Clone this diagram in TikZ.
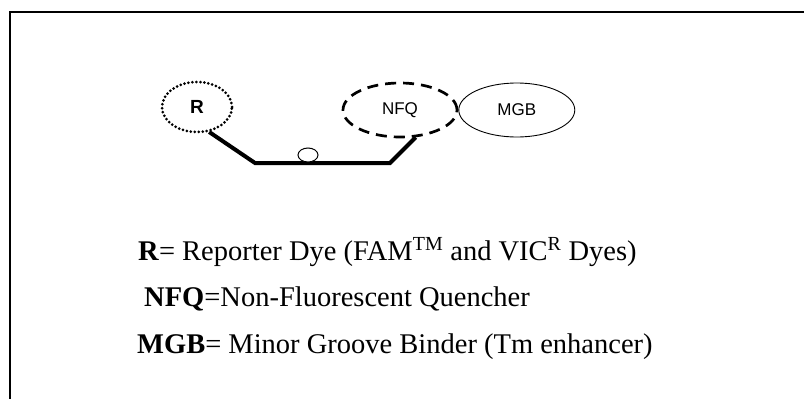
\documentclass[tikz,border=0pt]{standalone}
\usepackage{fontspec}
\setmainfont{Liberation Serif}
\setsansfont{Liberation Sans}
\usepackage{tikz}
\usetikzlibrary{shapes.geometric,positioning}

\begin{document}
\begin{tikzpicture}[x=1pt, y=-1pt,
    blob/.style={ellipse, draw, inner sep=0pt, font=\sffamily\fontsize{17}{17}\selectfont},
    bead/.style={ellipse, draw, line width=1pt, fill=white, minimum width=20pt,
                 minimum height=14pt, inner sep=0pt},
    backbone/.style={line width=4pt, line join=miter},
    legend/.style={anchor=base west, inner sep=0pt, font=\fontsize{28.5}{28.5}\selectfont},
]
\useasboundingbox (0,0) rectangle (804,399);

% Frame
\draw[line width=2pt] (10,399) -- (10,12) -- (804,12);

% Probe: dye, quencher, groove binder
\node[blob, line width=3pt, line cap=round, dash pattern=on 0pt off 4pt,
      minimum width=70pt, minimum height=50pt,
      font=\sffamily\bfseries\fontsize{19}{19}\selectfont] (rdye) at (197,107) {R};
\node[blob, line width=2.7pt, dash pattern=on 11pt off 7pt,
      minimum width=114pt, minimum height=54pt] (nfq) at (400,110) {NFQ};
\node[blob, line width=0.9pt, minimum width=116pt, minimum height=54pt,
      right=0pt of nfq] (mgb) {MGB};

% Oligo backbone
\coordinate (kink1) at (255,163);
\coordinate (kink2) at (390,163);
\draw[backbone] (rdye.-64) -- (kink1) -- (kink2) -- (nfq.-60);
\node[bead] (bead) at (308,155) {};

% Legend
\node[legend] (leg1) at (138,260)
    {\textbf{R}= Reporter Dye (FAM\textsuperscript{TM} and VIC\textsuperscript{R} Dyes)};
\node[legend] (leg2) at (144,306) {\textbf{NFQ}=Non-Fluorescent Quencher};
\node[legend] (leg3) at (137,353) {\textbf{MGB}= Minor Groove Binder (Tm enhancer)};

\end{tikzpicture}
\end{document}
